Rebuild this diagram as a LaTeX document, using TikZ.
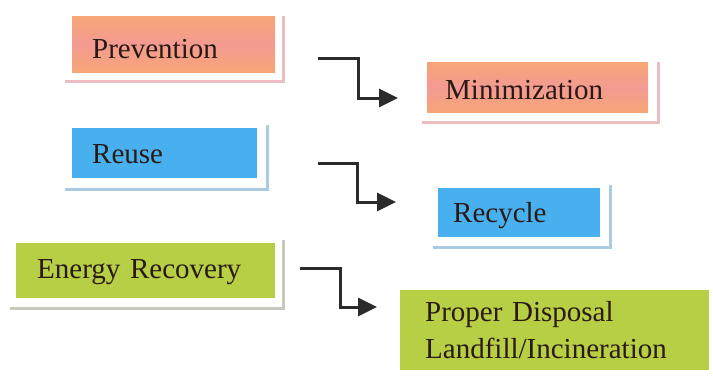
\documentclass[tikz,border=0pt]{standalone}
\usepackage{fontspec}
\setmainfont{Liberation Serif}
\usetikzlibrary{arrows.meta}
\definecolor{txtdark}{HTML}{2A1A14}
\definecolor{orA}{HTML}{F7A676}
\definecolor{orB}{HTML}{F39A92}
\definecolor{blueF}{HTML}{48B0EE}
\definecolor{greenF}{HTML}{B6CF44}
\definecolor{shPink}{HTML}{EBBCC2}
\definecolor{shBlue}{HTML}{A9CBE3}
\definecolor{shGray}{HTML}{C4C9BC}
\definecolor{arrowC}{HTML}{2B2B2B}
\tikzset{
  boxbase/.style={anchor=north west, inner ysep=0pt, align=left, text=txtdark,
    font=\fontsize{29}{37}\selectfont},
  orangebox/.style={boxbase, top color=orA, bottom color=orA, middle color=orB},
  bluebox/.style={boxbase, fill=blueF},
  greenbox/.style={boxbase, fill=greenF},
  shline/.style={line width=3pt},
  flowarrow/.style={draw=arrowC, line width=3pt,
    -{Triangle[length=19pt,width=18pt]}},
}
\begin{document}
\begin{tikzpicture}[x=1pt,y=-1pt]
\useasboundingbox (0,0) rectangle (713,376);
% boxes
\node[orangebox, minimum width=203pt, text height=42pt, text depth=14pt, text width=163pt, inner xsep=20pt]
  (prev) at (72,16) {Prevention};
\node[orangebox, minimum width=221pt, text height=37pt, text depth=13pt, text width=185pt, inner xsep=18pt]
  (mini) at (427,62) {Minimization};
\node[bluebox, minimum width=185pt, text height=35pt, text depth=15pt, text width=145pt, inner xsep=20pt]
  (reuse) at (72,128) {Reuse};
\node[bluebox, minimum width=162pt, text height=34pt, text depth=15pt, text width=132pt, inner xsep=15pt]
  (recy) at (438,188) {Recycle};
\node[greenbox, minimum width=259pt, text height=35pt, text depth=20pt, text width=217pt, inner xsep=21pt]
  (energy) at (16,243) {Energy Recovery};
\node[greenbox, minimum width=309pt, minimum height=80pt, text width=259pt, inner xsep=25pt]
  (disp) at (400,290) {Proper Disposal\\Landfill/Incineration};
% shadow frames
\draw[shline, shPink] ([xshift=8pt]prev.north east) -- ([xshift=8pt,yshift=-9pt]prev.south east)
  -- ([xshift=-7pt,yshift=-9pt]prev.south west);
\draw[shline, shPink] ([xshift=10pt]mini.north east) -- ([xshift=10pt,yshift=-10pt]mini.south east)
  -- ([xshift=-5pt,yshift=-10pt]mini.south west);
\draw[shline, shBlue] ([xshift=10pt,yshift=3pt]reuse.north east) -- ([xshift=10pt,yshift=-11pt]reuse.south east)
  -- ([xshift=-7pt,yshift=-11pt]reuse.south west);
\draw[shline, shBlue] ([xshift=10pt,yshift=3pt]recy.north east) -- ([xshift=10pt,yshift=-10pt]recy.south east)
  -- ([xshift=-5pt,yshift=-10pt]recy.south west);
\draw[shline, shGray] ([xshift=8pt,yshift=3pt]energy.north east) -- ([xshift=8pt,yshift=-10pt]energy.south east)
  -- ([xshift=-6pt,yshift=-10pt]energy.south west);
% arrows
\coordinate (a1s) at (318,58);  \coordinate (a1e) at (398,98);
\coordinate (a2s) at (318,163); \coordinate (a2e) at (396,202);
\coordinate (a3s) at (300,268); \coordinate (a3e) at (377,307);
\draw[flowarrow] (a1s) -- ++(40,0) |- (a1e);
\draw[flowarrow] (a2s) -- ++(39,0) |- (a2e);
\draw[flowarrow] (a3s) -- ++(40,0) |- (a3e);
\end{tikzpicture}
\end{document}
